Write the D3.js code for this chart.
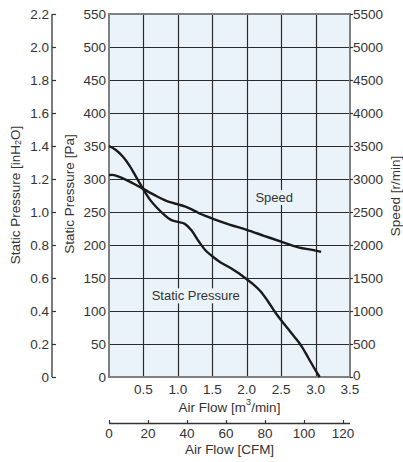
<!DOCTYPE html>
<html>
<head>
<meta charset="utf-8">
<script src="https://cdn.jsdelivr.net/npm/d3@7"></script>
<style>
  body { margin: 0; background: #fff; }
  text { font-family: "Liberation Sans", Arial, sans-serif; fill: #333; }
</style>
</head>
<body>
<div id="chart"></div>
<script>
// les donnees
const flowPressure = [0, 0.1, 0.2, 0.3, 0.4, 0.5, 0.6, 0.7, 0.8, 0.9, 1.0, 1.1, 1.2, 1.3, 1.4, 1.5, 1.6, 1.7, 1.8, 1.9, 2.0, 2.1, 2.2, 2.3, 2.4, 2.5, 2.6, 2.7, 2.8, 2.9, 3.0, 3.06];
const pressureValues = [350, 344, 334, 320, 302, 284, 268, 256, 246, 238, 235, 232, 222, 206, 192, 183, 175, 169, 163, 156, 148, 140, 130, 116, 100, 86, 73, 60, 46, 28, 10, 0];

const flowSpeed = [0, 0.05, 0.1, 0.2, 0.3, 0.4, 0.5, 0.6, 0.7, 0.8, 0.9, 1.0, 1.1, 1.2, 1.3, 1.4, 1.5, 1.75, 2.0, 2.25, 2.5, 2.75, 3.0, 3.08];
const speedValues = [3060, 3062, 3050, 3010, 2960, 2905, 2850, 2790, 2735, 2685, 2645, 2615, 2585, 2540, 2485, 2440, 2400, 2310, 2230, 2140, 2050, 1965, 1915, 1895];

// graduations
const flowTicks = [0.5, 1.0, 1.5, 2.0, 2.5, 3.0, 3.5];
const paTicks = [0, 50, 100, 150, 200, 250, 300, 350, 400, 450, 500, 550];
const inchTicks = [0, 0.2, 0.4, 0.6, 0.8, 1.0, 1.2, 1.4, 1.6, 1.8, 2.0, 2.2];
const speedTicks = [0, 500, 1000, 1500, 2000, 2500, 3000, 3500, 4000, 4500, 5000, 5500];
const cfmTicks = [0, 20, 40, 60, 80, 100, 120];

const width = 403,
  height = 462;
const pLeft = 109,
  pRight = 350,
  pTop = 14,
  pBottom = 377;

const tickSize = "13.5px",
  titleSize = "13.5px";

const svg = d3
  .select("#chart")
  .append("svg")
  .attr("width", width)
  .attr("height", height);

// echelles
const x = d3.scaleLinear().domain([0, 3.5]).range([pLeft, pRight]);
const yPa = d3.scaleLinear().domain([0, 550]).range([pBottom, pTop]);
const yInch = d3.scaleLinear().domain([0, 2.2]).range([pBottom, pTop]);
const ySpeed = d3.scaleLinear().domain([0, 5500]).range([pBottom, pTop]);
const xCfm = d3.scaleLinear().domain([0, 3.5 * 35.3147]).range([pLeft, pRight]);

// fond
svg
  .append("rect")
  .attr("x", pLeft)
  .attr("y", pTop)
  .attr("width", pRight - pLeft)
  .attr("height", pBottom - pTop)
  .attr("fill", "#ebf3fa");

// grille
svg
  .selectAll(".vgrid")
  .data(flowTicks.slice(0, -1))
  .enter()
  .append("line")
  .attr("x1", (d) => Math.round(x(d)) + 0.5)
  .attr("x2", (d) => Math.round(x(d)) + 0.5)
  .attr("y1", pTop)
  .attr("y2", pBottom)
  .attr("stroke", "#2b2b2b")
  .attr("stroke-width", 1.2);

svg
  .selectAll(".hgrid")
  .data(paTicks.slice(1, -1))
  .enter()
  .append("line")
  .attr("x1", pLeft)
  .attr("x2", pRight)
  .attr("y1", (d) => Math.round(yPa(d)) + 0.5)
  .attr("y2", (d) => Math.round(yPa(d)) + 0.5)
  .attr("stroke", "#2b2b2b")
  .attr("stroke-width", 1.2);

// cadre
svg
  .append("rect")
  .attr("x", pLeft)
  .attr("y", pTop)
  .attr("width", pRight - pLeft)
  .attr("height", pBottom - pTop)
  .attr("fill", "none")
  .attr("stroke", "#808080")
  .attr("stroke-width", 2);

// courbes
const linePressure = d3
  .line()
  .x((d, i) => x(flowPressure[i]))
  .y((d) => yPa(d))
  .curve(d3.curveMonotoneX);

const lineSpeed = d3
  .line()
  .x((d, i) => x(flowSpeed[i]))
  .y((d) => ySpeed(d))
  .curve(d3.curveMonotoneX);

svg
  .append("path")
  .attr("d", linePressure(pressureValues))
  .attr("fill", "none")
  .attr("stroke", "#1a1a1a")
  .attr("stroke-width", 2.4);

svg
  .append("path")
  .attr("d", lineSpeed(speedValues))
  .attr("fill", "none")
  .attr("stroke", "#1a1a1a")
  .attr("stroke-width", 2.4);

// etiquettes des courbes avec un fond
function addLabel(txt, cx, cy) {
  const t = svg
    .append("text")
    .attr("x", cx)
    .attr("y", cy)
    .attr("text-anchor", "middle")
    .attr("dominant-baseline", "central")
    .style("font-size", "13px")
    .text(txt);
  const b = t.node().getBBox();
  svg
    .insert("rect", function () {
      return t.node();
    })
    .attr("x", b.x - 2)
    .attr("y", b.y)
    .attr("width", b.width + 4)
    .attr("height", b.height)
    .attr("fill", "#ebf3fa");
}
addLabel("Speed", x(2.4), yPa(272));
addLabel("Static Pressure", x(1.26), yPa(123));

// axe Pa (gauche)
svg
  .selectAll(".paLabel")
  .data(paTicks)
  .enter()
  .append("text")
  .attr("x", pLeft - 3)
  .attr("y", (d) => yPa(d))
  .attr("text-anchor", "end")
  .attr("dominant-baseline", "central")
  .style("font-size", tickSize)
  .text((d) => d);

// axe inH2O
const inchX = 52;
svg
  .append("line")
  .attr("x1", inchX)
  .attr("x2", inchX)
  .attr("y1", pTop)
  .attr("y2", pBottom)
  .attr("stroke", "#333")
  .attr("stroke-width", 1.3);

svg
  .selectAll(".inchTick")
  .data(inchTicks)
  .enter()
  .append("line")
  .attr("x1", inchX)
  .attr("x2", inchX + 4)
  .attr("y1", (d) => Math.round(yInch(d)) + 0.5)
  .attr("y2", (d) => Math.round(yInch(d)) + 0.5)
  .attr("stroke", "#333")
  .attr("stroke-width", 1.2);

svg
  .selectAll(".inchLabel")
  .data(inchTicks)
  .enter()
  .append("text")
  .attr("x", inchX - 3)
  .attr("y", (d) => yInch(d))
  .attr("text-anchor", "end")
  .attr("dominant-baseline", "central")
  .style("font-size", tickSize)
  .text((d) => (d === 0 ? "0" : d.toFixed(1)));

// axe vitesse (droite)
svg
  .selectAll(".speedTick")
  .data(speedTicks)
  .enter()
  .append("line")
  .attr("x1", pRight)
  .attr("x2", pRight + 3)
  .attr("y1", (d) => Math.round(ySpeed(d)) + 0.5)
  .attr("y2", (d) => Math.round(ySpeed(d)) + 0.5)
  .attr("stroke", "#333")
  .attr("stroke-width", 1.2);

svg
  .selectAll(".speedLabel")
  .data(speedTicks)
  .enter()
  .append("text")
  .attr("x", pRight + 3)
  .attr("y", (d) => ySpeed(d) - (d === 0 ? 2 : 0))
  .attr("text-anchor", "start")
  .attr("dominant-baseline", "central")
  .style("font-size", tickSize)
  .text((d) => d);

// axe debit m3/min
svg
  .selectAll(".flowLabel")
  .data(flowTicks)
  .enter()
  .append("text")
  .attr("x", (d) => x(d))
  .attr("y", 389)
  .attr("text-anchor", "middle")
  .attr("dominant-baseline", "central")
  .style("font-size", tickSize)
  .text((d) => d.toFixed(1));

svg
  .append("text")
  .attr("x", (pLeft + pRight) / 2)
  .attr("y", 407)
  .attr("text-anchor", "middle")
  .attr("dominant-baseline", "central")
  .style("font-size", titleSize)
  .html("Air Flow [m<tspan font-size='9px' dy='-5'>3</tspan><tspan dy='5'>/min]</tspan>");

// axe debit CFM
const cfmY = 423;
svg
  .append("line")
  .attr("x1", pLeft)
  .attr("x2", pRight)
  .attr("y1", cfmY + 0.5)
  .attr("y2", cfmY + 0.5)
  .attr("stroke", "#333")
  .attr("stroke-width", 1.3);

svg
  .selectAll(".cfmTick")
  .data(cfmTicks)
  .enter()
  .append("line")
  .attr("x1", (d) => Math.round(xCfm(d)) + 0.5)
  .attr("x2", (d) => Math.round(xCfm(d)) + 0.5)
  .attr("y1", cfmY - 3)
  .attr("y2", cfmY)
  .attr("stroke", "#333")
  .attr("stroke-width", 1.2);

svg
  .selectAll(".cfmLabel")
  .data(cfmTicks)
  .enter()
  .append("text")
  .attr("x", (d) => xCfm(d))
  .attr("y", 433)
  .attr("text-anchor", "middle")
  .attr("dominant-baseline", "central")
  .style("font-size", tickSize)
  .text((d) => d);

svg
  .append("text")
  .attr("x", (pLeft + pRight) / 2)
  .attr("y", 449)
  .attr("text-anchor", "middle")
  .attr("dominant-baseline", "central")
  .style("font-size", titleSize)
  .text("Air Flow [CFM]");

// titres verticaux
svg
  .append("text")
  .attr("transform", "translate(15,195) rotate(-90)")
  .attr("text-anchor", "middle")
  .attr("dominant-baseline", "central")
  .style("font-size", titleSize)
  .html("Static Pressure [inH<tspan font-size='9px' dy='3'>2</tspan><tspan dy='-3'>O]</tspan>");

svg
  .append("text")
  .attr("transform", "translate(69,194) rotate(-90)")
  .attr("text-anchor", "middle")
  .attr("dominant-baseline", "central")
  .style("font-size", titleSize)
  .text("Static Pressure [Pa]");

svg
  .append("text")
  .attr("transform", "translate(395,196) rotate(-90)")
  .attr("text-anchor", "middle")
  .attr("dominant-baseline", "central")
  .style("font-size", titleSize)
  .text("Speed [r/min]");
</script>
</body>
</html>
